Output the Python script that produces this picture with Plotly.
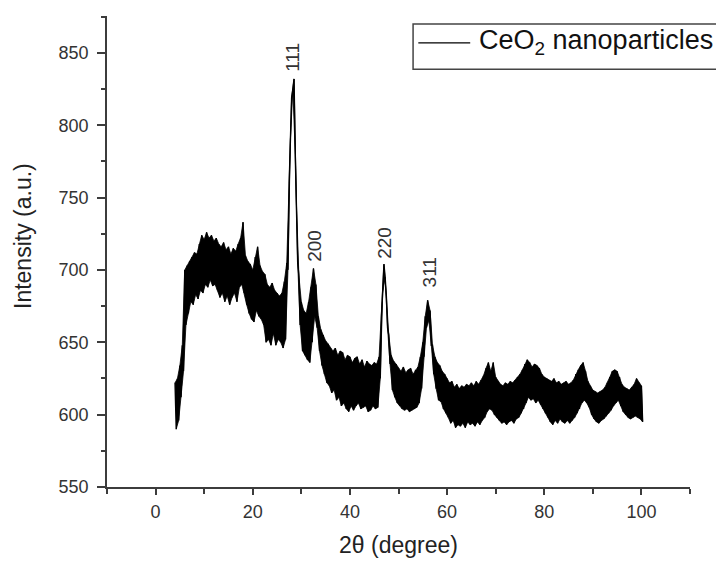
import plotly.graph_objects as go

# XRD pattern of CeO2 nanoparticles at 0.5 degree steps.
# two_theta_start / step define the measurement grid; upper / lower are the
# top and bottom of the noisy trace in each step (upper at x, lower at x + step/2).
two_theta_start = 4.0
step = 0.5
upper = [
    622, 625, 634, 648, 700, 703, 706, 709, 712, 711,
    718, 724, 721, 726, 722, 724, 720, 722, 718, 716,
    719, 714, 716, 711, 715, 713, 718, 722, 733, 710,
    706, 704, 700, 709, 716, 703, 699, 697, 690, 688,
    691, 686, 684, 682, 684, 692, 705, 760, 819, 832,
    745, 696, 678, 672, 670, 678, 688, 701, 690, 668,
    659, 655, 651, 649, 646, 644, 646, 641, 644, 643,
    638, 641, 640, 636, 639, 640, 635, 638, 633, 637,
    635, 634, 636, 635, 640, 668, 704, 682, 655, 641,
    637, 635, 632, 630, 633, 629, 631, 632, 628, 631,
    633, 640, 650, 668, 679, 672, 648, 640, 636, 634,
    630, 628, 625, 622, 623, 619, 621, 618, 620, 619,
    621, 620, 622, 620, 623, 621, 624, 627, 632, 636,
    630, 636, 626, 623, 621, 620, 622, 621, 623, 622,
    624, 626, 628, 631, 635, 638, 636, 633, 635, 634,
    632, 628, 626, 625, 624, 623, 625, 622, 623, 621,
    622, 623, 621, 622, 624, 628, 631, 634, 636, 630,
    623, 620, 617, 616, 615, 616, 617, 619, 622, 626,
    630, 631, 630, 626, 621, 619, 618, 617, 619, 621,
    625, 622, 620,
]
lower = [
    590, 596, 612, 630, 662, 670, 678, 676, 683, 680,
    686, 684, 690, 688, 693, 689, 690, 686, 681, 684,
    678, 682, 676, 681, 684, 678, 688, 690, 684, 676,
    670, 666, 664, 672, 668, 666, 662, 650, 652, 648,
    656, 648, 652, 650, 646, 652, 700, 790, 825, 780,
    705, 662, 644, 641, 638, 636, 650, 668, 660, 644,
    634, 628, 622, 620, 615, 617, 610, 612, 606, 608,
    604, 602, 606, 603, 606, 608, 604, 605, 606, 602,
    603, 606, 604, 605, 625, 684, 695, 660, 635, 617,
    612, 608, 606, 604, 603, 604, 602, 603, 604, 605,
    608, 618, 640, 660, 665, 648, 628, 618, 610, 609,
    604, 601, 598, 594, 596, 591, 593, 592, 594, 591,
    595, 593, 594, 592, 595, 593, 596, 598, 602, 604,
    603, 600, 598, 596, 594, 595, 593, 595, 596, 594,
    597, 598, 601, 604, 608, 612, 610, 611, 608, 610,
    607, 604, 601, 598, 595, 593, 596, 594, 597, 595,
    594, 596, 594, 596, 598, 601, 604, 608, 610, 608,
    605, 600, 597, 595, 594, 596, 597, 599, 601, 603,
    606, 608, 610, 606, 602, 600, 598, 597, 598, 599,
    598, 597, 595,
]

peak_labels = ["111", "200", "220", "311"]
peak_x = [28.2, 32.7, 47.1, 56.4]
peak_label_y = [847, 717, 719, 698]

series_name = "CeO<sub>2</sub> nanoparticles"
x_title = "2θ (degree)"
y_title = "Intensity (a.u.)"

# grid positions for upper / lower readings
x_up = [two_theta_start + i * step for i in range(len(upper))]
x_lo = [two_theta_start + i * step + step / 2 for i in range(len(lower))]

# zigzag trace (upper at grid point, lower half a step later)
xs, ys = [], []
for xu, u, xl, l in zip(x_up, upper, x_lo, lower):
    xs += [xu, xl]
    ys += [u, l]

FONT = "Liberation Sans, Arial, sans-serif"
AX = "#3c3c3c"

fig = go.Figure()
# solid noise band between the read envelopes
fig.add_trace(go.Scatter(x=x_up + x_lo[::-1], y=upper + lower[::-1], mode="lines",
                         fill="toself", fillcolor="black",
                         line=dict(color="black", width=0.8),
                         hoverinfo="skip", showlegend=False))
fig.add_trace(go.Scatter(x=xs, y=ys, mode="lines",
                         line=dict(color="black", width=1.4),
                         name=series_name, showlegend=False))

for lab, px, py in zip(peak_labels, peak_x, peak_label_y):
    fig.add_annotation(x=px, y=py, text=lab, textangle=-90, showarrow=False,
                       xanchor="center", yanchor="middle",
                       font=dict(family=FONT, size=19, color="#333"))

# legend drawn as box + sample line + text
fig.add_shape(type="rect", xref="paper", yref="paper", x0=0.525, x1=1.2,
              y0=0.887, y1=0.983, line=dict(color="#444", width=1.5),
              fillcolor="white", layer="above")
fig.add_shape(type="line", xref="paper", yref="paper", x0=0.534, x1=0.623,
              y0=0.943, y1=0.943, line=dict(color="black", width=1.2),
              layer="above")
fig.add_annotation(xref="paper", yref="paper", x=0.634, y=0.945,
                   text=series_name, showarrow=False, xanchor="left",
                   yanchor="middle", font=dict(family=FONT, size=27, color="#111"))

# y-axis title (placed as in the reference, slightly above centre)
fig.add_annotation(xref="paper", yref="paper", x=-0.144, y=0.533,
                   text=y_title, textangle=-90, showarrow=False,
                   xanchor="center", yanchor="middle",
                   font=dict(family=FONT, size=23, color="#222"))

fig.update_layout(
    width=716, height=562,
    margin=dict(l=107, r=26, t=16, b=75),
    template="none",
    plot_bgcolor="white", paper_bgcolor="white",
    font=dict(family=FONT, color="#333"),
    showlegend=False,
)
fig.update_xaxes(
    range=[-10, 110], showgrid=False, zeroline=False,
    showline=True, linecolor=AX, linewidth=1.5, mirror=False,
    ticks="outside", ticklen=6, tickwidth=1.5, tickcolor=AX,
    tick0=0, dtick=20, tickfont=dict(family=FONT, size=18, color="#333"),
    ticklabelstandoff=2,
    minor=dict(ticks="outside", ticklen=5, tickwidth=1.5, tickcolor=AX, dtick=10, tick0=0, showgrid=False),
    title=dict(text=x_title, font=dict(family=FONT, size=23, color="#222"), standoff=16),
    automargin=False,
)
fig.update_yaxes(
    range=[550, 875.5], showgrid=False, zeroline=False,
    showline=True, linecolor=AX, linewidth=1.5, mirror=False,
    ticks="outside", ticklen=8, tickwidth=1.5, tickcolor=AX,
    tick0=550, dtick=50, tickfont=dict(family=FONT, size=18, color="#333"),
    ticklabelstandoff=5,
    minor=dict(ticks="outside", ticklen=4, tickwidth=1.5, tickcolor=AX, dtick=25, tick0=550, showgrid=False),
    automargin=False,
)

fig.write_html("out.html")
